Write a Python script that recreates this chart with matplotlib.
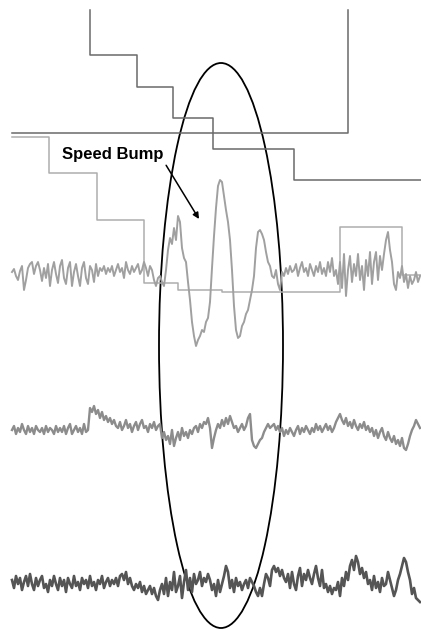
"""Speed-bump figure: three accelerometer-style traces with step lines and a circled bump."""

import matplotlib
matplotlib.use("Agg")
import matplotlib.pyplot as plt
import numpy as np
from matplotlib.patches import Ellipse

# sample positions (one every 2 px of the original figure, drawn in pixel-like units)
SAMPLE_X = np.arange(12, 421, 2)

# light trace (top), the one with the speed bump
TRACE_TOP = [
    272, 269, 276, 280, 271, 266, 290, 280, 268, 264,
    262, 274, 266, 262, 270, 281, 268, 278, 264, 286,
    270, 262, 274, 283, 266,
    260, 278, 284, 268, 262, 286, 272, 264, 276, 286,
    268, 262, 278, 284, 266, 270, 282, 264, 276, 268,
    271, 266, 274, 268, 272,
    266, 276, 270, 264, 272, 268, 278, 262, 270, 274,
    266, 272, 268, 264, 274, 270, 262, 268, 276, 266,
    270, 280, 286, 278, 276,
    282, 286, 270, 250, 238, 244, 228, 240, 216, 222,
    248, 258, 262, 282, 300, 322, 336, 346, 340, 336,
    330, 332, 322, 318, 302,
    268, 236, 208, 186, 180, 182, 196, 210, 222, 240,
    270, 306, 330, 338, 336, 326, 322, 314, 310, 300,
    290, 276, 248, 232, 230,
    234, 240, 252, 262, 266, 276, 278, 270, 284, 290,
    272, 276, 268, 274, 266, 272, 270, 264, 276, 268,
    262, 272, 268, 276, 264,
    270, 276, 266, 272, 262, 274, 268, 276, 262, 272,
    258, 276, 270, 284, 262, 288, 254, 296, 270, 256,
    282, 264, 276, 254, 280,
    266, 290, 260, 276, 252, 284, 262, 252, 280, 256,
    270, 254, 240, 232, 250, 262, 284, 290, 272, 278,
    266, 282, 274, 288, 276, 284, 280, 272, 282, 276,
]

# middle trace
TRACE_MID = [
    430, 426, 434, 428, 432, 424, 430, 434, 426, 432,
    428, 434, 426, 430, 432, 428, 434, 426, 432, 428,
    430, 434, 426, 432, 428,
    432, 426, 434, 428, 424, 434, 430, 426, 432, 428,
    434, 424, 432, 430, 408, 412, 406, 414, 410, 418,
    412, 420, 416, 422, 418,
    424, 420, 426, 428, 422, 430, 426, 420, 428, 424,
    432, 426, 422, 430, 424, 420, 428, 426, 432, 424,
    428, 422, 430, 426, 424,
    438, 432, 440, 436, 444, 430, 446, 438, 432, 440,
    428, 436, 432, 438, 430, 434, 428, 426, 432, 424,
    428, 422, 424, 418, 428,
    448, 438, 430, 424, 428, 420, 426, 418, 424, 416,
    422, 428, 426, 432, 428, 424, 430, 426, 418, 414,
    440, 446, 448, 444, 440,
    438, 432, 428, 424, 428, 426, 424, 430, 426, 432,
    428, 436, 430, 434, 428, 432, 436, 430, 426, 434,
    428, 432, 426, 430, 434,
    428, 432, 424, 430, 426, 432, 428, 424, 430, 426,
    432, 428, 422, 418, 414, 420, 424, 418, 426, 422,
    428, 420, 426, 430, 424,
    428, 422, 430, 426, 432, 428, 436, 430, 438, 432,
    428, 436, 440, 432, 438, 442, 436, 444, 440, 446,
    438, 448, 450, 444, 436, 430, 426, 420, 424, 428,
]

# dark trace (bottom)
TRACE_BOT = [
    580, 588, 576, 584, 578, 590, 582, 576, 586, 574,
    584, 590, 578, 586, 580, 576, 588, 584, 592, 580,
    586, 576, 584, 590, 578,
    586, 580, 592, 578, 584, 588, 576, 586, 582, 590,
    578, 584, 580, 588, 576, 586, 582, 590, 580, 584,
    576, 588, 582, 578, 586,
    580, 584, 578, 586, 576, 574, 580, 572, 584, 578,
    586, 590, 584, 588, 582, 592, 586, 594, 590, 586,
    594, 588, 596, 600, 590,
    584, 594, 578, 596, 582, 590, 572, 592, 586, 576,
    598, 582, 570, 590, 578, 592, 574, 584, 580, 572,
    586, 578, 582, 574, 580,
    590, 584, 596, 580, 592, 584, 576, 566, 572, 588,
    580, 592, 578, 586, 582, 590, 584, 580, 588, 578,
    582, 586, 592, 596, 588,
    596, 584, 574, 578, 586, 570, 566, 572, 568, 576,
    570, 578, 582, 574, 588, 572, 584, 590, 576, 568,
    586, 574, 580, 570, 578,
    584, 574, 566, 578, 586, 570, 588, 584, 592, 586,
    594, 588, 590, 582, 596, 578, 586, 572, 580, 566,
    560, 570, 556, 562, 574,
    568, 578, 572, 584, 580, 590, 576, 588, 582, 592,
    578, 586, 584, 572, 580, 588, 596, 590, 580, 574,
    566, 558, 562, 572, 580, 594, 588, 598, 600, 602,
]

# step lines (post-style breakpoints)
STEP_DARK_X = [90, 90, 137, 173, 213, 294, 421]
STEP_DARK_Y = [10, 55, 87, 118, 149, 180, 180]
BOX_X = [12, 348, 348]
BOX_Y = [133, 133, 10]
STEP_LIGHT_X = [12, 49, 97, 144, 178, 222, 340, 402, 421]
STEP_LIGHT_Y = [137, 173, 220, 283, 290, 292, 227, 275, 275]


def main():
    fig = plt.figure(figsize=(4.21, 6.3), dpi=100)
    ax = fig.add_axes([0, 0, 1, 1])
    ax.set_xlim(0, 421)
    ax.set_ylim(630, 0)
    ax.axis("off")

    ax.step(STEP_DARK_X, STEP_DARK_Y, where="post", color="#6a6a6a", lw=1.1)
    ax.plot(BOX_X, BOX_Y, color="#6a6a6a", lw=1.1)
    ax.step(STEP_LIGHT_X, STEP_LIGHT_Y, where="post", color="#adadad", lw=1.1)

    ax.plot(SAMPLE_X, TRACE_TOP, color="#a0a0a0", lw=1.4)
    ax.plot(SAMPLE_X, TRACE_MID, color="#8c8c8c", lw=1.7)
    ax.plot(SAMPLE_X, TRACE_BOT, color="#555555", lw=1.9)

    ax.add_patch(Ellipse((221, 345.5), 124, 565, fill=False, ec="black", lw=1.3))

    ax.annotate(
        "Speed Bump", xy=(199, 219), xytext=(62, 155),
        ha="left", va="center", fontsize=12, fontweight="bold",
        family=["Liberation Sans", "DejaVu Sans"],
        arrowprops=dict(arrowstyle="-|>", color="black", lw=1.1,
                        mutation_scale=9, shrinkA=0, shrinkB=0,
                        relpos=(1.0, 0.1)),
    )

    fig.savefig("out.png", dpi=100)


if __name__ == "__main__":
    main()
